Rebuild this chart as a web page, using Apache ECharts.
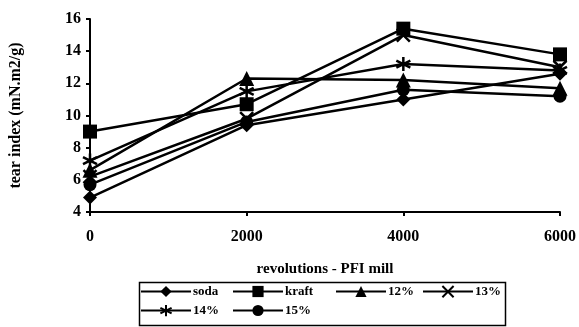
<!DOCTYPE html>
<html>
<head>
<meta charset="utf-8">
<script src="https://cdn.jsdelivr.net/npm/echarts@6/dist/echarts.min.js"></script>
<style>html,body{margin:0;padding:0;background:#fff;}#c{width:579px;height:327px;}</style>
</head>
<body>
<div id="c"></div>
<script>
const categories = [0, 2000, 4000, 6000];
const seriesNames = ['soda', 'kraft', '12%', '13%', '14%', '15%'];
const soda = [4.9, 9.4, 11.0, 12.6];
const kraft = [9.0, 10.7, 15.4, 13.8];
const p12 = [6.6, 12.3, 12.2, 11.7];
const p13 = [6.2, 9.8, 15.0, 13.0];
const p14 = [7.2, 11.5, 13.2, 12.8];
const p15 = [5.7, 9.6, 11.6, 11.2];
const yTicks = [4, 6, 8, 10, 12, 14, 16];

const valuesList = [soda, kraft, p12, p13, p14, p15];
const symbols = [
  'diamond', 'rect', 'triangle',
  'path://M0,0 L10,10 M10,0 L0,10',
  'path://M5,0 L5,10 M0.7,2.5 L9.3,7.5 M0.7,7.5 L9.3,2.5',
  'circle'
];
const sizes = [14, 14, 15, 13, 14, 13];
const font = '"Liberation Serif", "DejaVu Serif", serif';

const chart = echarts.init(document.getElementById('c'), null, {renderer: 'canvas'});
const series = seriesNames.map((n, i) => ({
  name: n,
  type: 'line',
  data: categories.map((x, j) => [x, valuesList[i][j]]),
  symbol: symbols[i],
  symbolSize: sizes[i],
  showAllSymbol: true,
  lineStyle: {color: '#000', width: 2.5},
  itemStyle: {color: '#000', borderColor: '#000', borderWidth: (i === 3 || i === 4) ? 2.5 : 0},
  emphasis: {disabled: true},
  animation: false
}));

const legendPos = [
  {name: 'soda', left: 140, top: 285},
  {name: 'kraft', left: 232, top: 285},
  {name: '12%', left: 335, top: 285},
  {name: '13%', left: 422, top: 285},
  {name: '14%', left: 140, top: 304},
  {name: '15%', left: 232, top: 304}
];
const legends = legendPos.map(l => ({
  data: [l.name],
  left: l.left, top: l.top,
  itemWidth: 50, itemHeight: 14, itemGap: 0, padding: 0,
  lineStyle: {width: 2},
  textStyle: {fontFamily: font, fontWeight: 'bold', fontSize: 13, color: '#000', padding: [0, 0, 0, -3]},
  selectedMode: false
}));

chart.setOption({
  backgroundColor: '#fff',
  animation: false,
  grid: {left: 89, right: 19, top: 19, bottom: 115, containLabel: false},
  xAxis: {
    type: 'value', min: 0, max: 6000, interval: 2000,
    name: 'revolutions - PFI mill', nameLocation: 'middle', nameGap: 50,
    nameTextStyle: {fontFamily: font, fontWeight: 'bold', fontSize: 15, color: '#000'},
    axisLine: {lineStyle: {color: '#000', width: 2}},
    axisTick: {show: true, inside: false, length: 4, lineStyle: {color: '#000', width: 2}},
    axisLabel: {fontFamily: font, fontWeight: 'bold', fontSize: 16, color: '#000', margin: 17,
      formatter: v => String(v)},
    splitLine: {show: false}
  },
  yAxis: {
    type: 'value', min: 4, max: 16, interval: 2,
    name: 'tear index (mN.m2/g)', nameLocation: 'middle', nameGap: 66,
    nameTextStyle: {fontFamily: font, fontWeight: 'bold', fontSize: 16, color: '#000'},
    axisLine: {show: true, lineStyle: {color: '#000', width: 2}},
    axisTick: {show: true, length: 4, lineStyle: {color: '#000', width: 2}},
    axisLabel: {fontFamily: font, fontWeight: 'bold', fontSize: 16, color: '#000', margin: 9,
      formatter: v => yTicks.includes(v) ? String(v) : ''},
    splitLine: {show: false}
  },
  legend: legends,
  graphic: [{
    type: 'rect', left: 137, top: 280,
    shape: {width: 366, height: 43},
    style: {fill: 'none', stroke: '#000', lineWidth: 1.5}, silent: true
  }],
  series: series
});
</script>
</body>
</html>
